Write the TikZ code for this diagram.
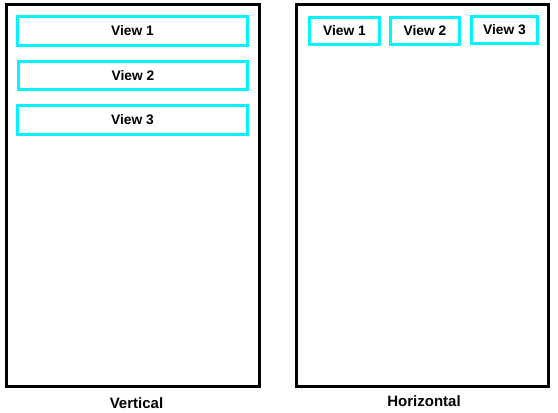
\documentclass[tikz,border=0pt]{standalone}
\usepackage{fontspec}
\setmainfont{Liberation Sans}
\definecolor{viewcyan}{HTML}{00F5FF}
\begin{document}
\begin{tikzpicture}[x=1pt,y=-1pt,
  frame/.style={draw=black,line width=3pt,inner sep=0pt,minimum width=253pt,minimum height=381.5pt},
  viewbox/.style={draw=viewcyan,line width=3pt,inner sep=0pt,font=\bfseries\fontsize{13.8}{14}\selectfont,text=black},
  caption/.style={font=\bfseries\fontsize{15}{16}\selectfont,text=black,inner sep=0pt}]
\useasboundingbox (0,0) rectangle (558,413);
\node[frame] (left) at (133,195.25) {};
\node[frame,minimum width=252pt] (right) at (422.5,195.25) {};
\node[viewbox,minimum width=230pt,minimum height=29pt] (lv1) at (132.5,31) {View 1};
\node[viewbox,minimum width=229pt,minimum height=28pt] (lv2) at (133,75.5) {View 2};
\node[viewbox,minimum width=230pt,minimum height=29pt] (lv3) at (132.5,120) {View 3};
\node[viewbox,minimum width=70pt,minimum height=27pt] (rv1) at (344.5,31) {View 1};
\node[viewbox,minimum width=69pt,minimum height=27pt] (rv2) at (425,31) {View 2};
\node[viewbox,minimum width=66pt,minimum height=27pt] (rv3) at (504.5,30) {View 3};
\node[caption] (vcap) at (136.5,403.5) {Vertical};
\node[caption] (hcap) at (424,401) {Horizontal};
\end{tikzpicture}
\end{document}
